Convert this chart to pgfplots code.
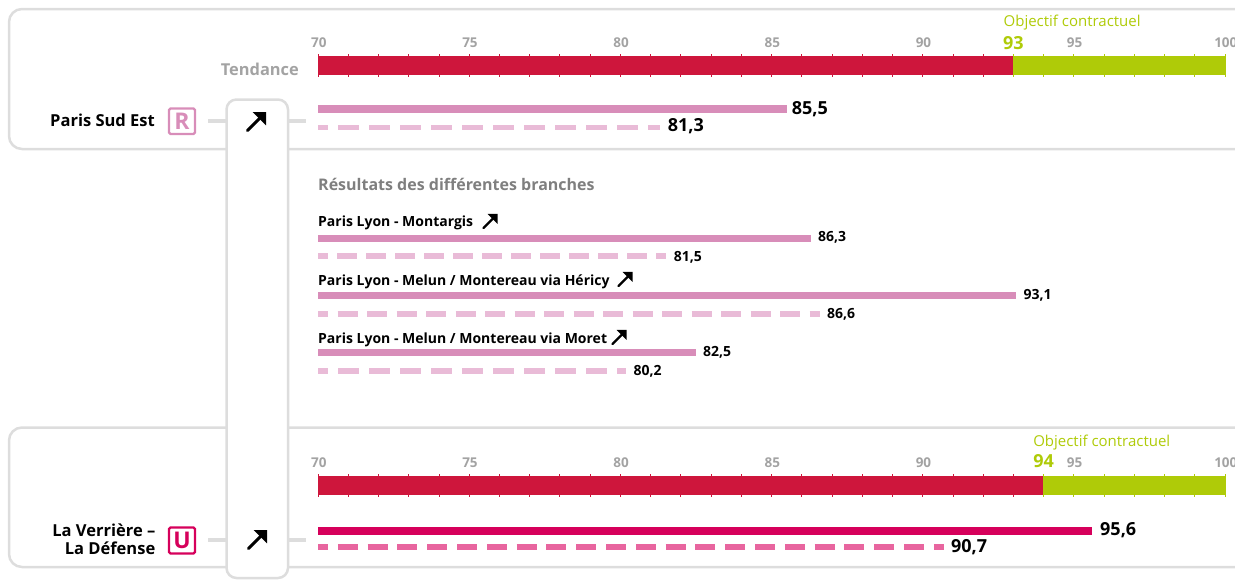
\documentclass[border=0pt]{standalone}
\usepackage{fontspec}
\setmainfont{Open Sans}
\usepackage{pgfplots}
\pgfplotsset{compat=1.18}
\definecolor{panelgrey}{HTML}{DDDDDD}
\definecolor{ticklab}{HTML}{A3A3A3}
\definecolor{headgrey}{HTML}{7F7F7F}
\definecolor{okred}{HTML}{CE163C}
\definecolor{okgreen}{HTML}{AFCB08}
\definecolor{rmain}{HTML}{D88DB9}
\definecolor{rdash}{HTML}{E9BBD7}
\definecolor{umain}{HTML}{D6005B}
\definecolor{udash}{HTML}{E8659F}
\newcommand{\fs}[1]{\fontsize{#1}{#1}\selectfont}
\tikzset{
  tl/.style={font=\bfseries\fs{13.5},text=ticklab,inner sep=0pt,anchor=center,xshift=0.8pt},
  val/.style={font=\bfseries\fs{18},text=black,inner sep=0pt,anchor=west},
  vals/.style={font=\bfseries\fs{14},text=black,inner sep=0pt,anchor=west},
  uparrow/.pic={\draw[line width=#1,line cap=round,black] (0,0) -- (0.95,-0.95); \draw[line width=#1,line join=miter,fill=black,black] (0.52,-1) -- (1,-1) -- (1,-0.52) -- cycle;},
}
\begin{document}
\begin{tikzpicture}
\useasboundingbox (0,0) rectangle (1235pt,-579pt);
\clip (0,0) rectangle (1235pt,-579pt);
\begin{scope}[x=1pt,y=-1pt,line width=2.5pt]
\draw[panelgrey,rounded corners=13pt] (1300,9) -- (9,9) -- (9,149) -- (1300,149);
\draw[panelgrey,rounded corners=13pt] (1300,427.5) -- (9,427.5) -- (9,567) -- (1300,567);
\draw[panelgrey,line width=3.5pt] (208,121) -- (306,121);
\draw[panelgrey,line width=3.5pt] (208,540) -- (306,540);
\draw[panelgrey,fill=white,rounded corners=10pt] (226.5,99.5) rectangle (288,578);
\end{scope}
\begin{axis}[
  at={(0,0)}, anchor=north west,
  width=1235pt, height=579pt, scale only axis, hide axis,
  xmin=59.482, xmax=100.331, ymin=0, ymax=579, y dir=reverse,
  clip=true,
]
% --- Paris Sud Est : objective scale
\addplot[okred,line width=19pt,line cap=butt] coordinates {(70,65.5) (93,65.5)};
\addplot[okgreen,line width=19pt,line cap=butt] coordinates {(93,65.5) (100,65.5)};
\addplot[only marks,mark=|,mark size=11.5pt,mark options={okred,line width=0.8pt}] coordinates {(70,65.5)(71,65.5)(72,65.5)(73,65.5)(74,65.5)(75,65.5)(76,65.5)(77,65.5)(78,65.5)(79,65.5)(80,65.5)(81,65.5)(82,65.5)(83,65.5)(84,65.5)(85,65.5)(86,65.5)(87,65.5)(88,65.5)(89,65.5)(90,65.5)(91,65.5)(92,65.5)};
\addplot[only marks,mark=|,mark size=11.5pt,mark options={okgreen,line width=0.8pt}] coordinates {(93,65.5)(94,65.5)(95,65.5)(96,65.5)(97,65.5)(98,65.5)(99,65.5)(100,65.5)};
% --- La Verriere : objective scale
\addplot[okred,line width=19pt] coordinates {(70,485.5) (94,485.5)};
\addplot[okgreen,line width=19pt] coordinates {(94,485.5) (100,485.5)};
\addplot[only marks,mark=|,mark size=11.5pt,mark options={okred,line width=0.8pt}] coordinates {(70,485.5)(71,485.5)(72,485.5)(73,485.5)(74,485.5)(75,485.5)(76,485.5)(77,485.5)(78,485.5)(79,485.5)(80,485.5)(81,485.5)(82,485.5)(83,485.5)(84,485.5)(85,485.5)(86,485.5)(87,485.5)(88,485.5)(89,485.5)(90,485.5)(91,485.5)(92,485.5)(93,485.5)};
\addplot[only marks,mark=|,mark size=11.5pt,mark options={okgreen,line width=0.8pt}] coordinates {(94,485.5)(95,485.5)(96,485.5)(97,485.5)(98,485.5)(99,485.5)(100,485.5)};
% --- Results
\addplot[rmain,line width=8pt] coordinates {(70,109.3) (85.5,109.3)};
\addplot[rdash,line width=5.5pt,dash pattern=on 21pt off 10pt,dash phase=11pt] coordinates {(70,127.3) (81.3,127.3)};
\addplot[rmain,line width=7pt] coordinates {(70,238) (86.3,238)};
\addplot[rdash,line width=6pt,dash pattern=on 20pt off 9pt,dash phase=10pt] coordinates {(70,256.3) (81.5,256.3)};
\addplot[rmain,line width=7pt] coordinates {(70,295.2) (93.1,295.2)};
\addplot[rdash,line width=6pt,dash pattern=on 20pt off 9.5pt,dash phase=10pt] coordinates {(70,313.7) (86.6,313.7)};
\addplot[rmain,line width=7pt] coordinates {(70,352.6) (82.5,352.6)};
\addplot[rdash,line width=6pt,dash pattern=on 21pt off 10pt,dash phase=11pt] coordinates {(70,371.2) (80.2,371.2)};
\addplot[umain,line width=8pt] coordinates {(70,530.5) (95.6,530.5)};
\addplot[udash,line width=5.5pt,dash pattern=on 20pt off 9.8pt,dash phase=10pt] coordinates {(70,547.2) (90.7,547.2)};
% --- tick labels
\node[tl] at (axis cs:70,43) {70};
\node[tl] at (axis cs:75,43) {75};
\node[tl] at (axis cs:80,43) {80};
\node[tl] at (axis cs:85,43) {85};
\node[tl] at (axis cs:90,43) {90};
\node[tl] at (axis cs:95,43) {95};
\node[tl] at (axis cs:100,43) {100};
\node[tl] at (axis cs:70,463) {70};
\node[tl] at (axis cs:75,463) {75};
\node[tl] at (axis cs:80,463) {80};
\node[tl] at (axis cs:85,463) {85};
\node[tl] at (axis cs:90,463) {90};
\node[tl] at (axis cs:95,463) {95};
\node[tl] at (axis cs:100,463) {100};
% --- value labels
\node[val] at (axis cs:85.5,109) [xshift=5pt] {85,5};
\node[val] at (axis cs:81.3,126) [xshift=8pt] {81,3};
\node[vals] at (axis cs:86.3,237.5) [xshift=7pt] {86,3};
\node[vals] at (axis cs:81.5,257.5) [xshift=8pt] {81,5};
\node[vals] at (axis cs:93.1,295.5) [xshift=7pt] {93,1};
\node[vals] at (axis cs:86.6,314.5) [xshift=7pt] {86,6};
\node[vals] at (axis cs:82.5,352.5) [xshift=7pt] {82,5};
\node[vals] at (axis cs:80.2,371.5) [xshift=7pt] {80,2};
\node[val] at (axis cs:95.6,530) [xshift=8pt] {95,6};
\node[val] at (axis cs:90.7,547) [xshift=7pt] {90,7};
% --- objectives
\node[font=\bfseries\fs{18},text=okgreen,inner sep=0pt] at (axis cs:93,43) {93};
\node[font=\bfseries\fs{18},text=okgreen,inner sep=0pt] at (axis cs:94,461) {94};
\node[font=\fs{15},text=okgreen,inner sep=0pt,anchor=west] at (axis cs:92.67,23) {Objectif contractuel};
\node[font=\fs{15},text=okgreen,inner sep=0pt,anchor=west] at (axis cs:93.65,443) {Objectif contractuel};
\end{axis}
\begin{scope}[x=1pt,y=-1pt]
\node[font=\bfseries\fs{16.4},text=ticklab,anchor=east,inner sep=0pt] at (299,69) {Tendance};
\node[font=\bfseries\fs{16.5},anchor=east,inner sep=0pt] at (155,120) {Paris Sud Est};
\node[font=\bfseries\fs{16.5},anchor=east,inner sep=0pt] at (155.5,530) {La Verrière –};
\node[font=\bfseries\fs{16.5},anchor=east,inner sep=0pt] at (155.5,548) {La Défense};
\draw[rmain,line width=2.2pt,rounded corners=1.5pt] (169,108.5) rectangle (195,134);
\node[font=\bfseries\fs{23},text=rmain,inner sep=0pt] at (182,121.5) {R};
\draw[umain,line width=2.2pt,rounded corners=1.5pt] (169,527.5) rectangle (195,553.5);
\node[font=\bfseries\fs{23},text=umain,inner sep=0pt] at (182,540) {U};
\node[font=\bfseries\fs{16},text=headgrey,anchor=west,inner sep=0pt] at (318,184) {Résultats des différentes branches};
\node[font=\bfseries\fs{14},anchor=west,inner sep=0pt] at (318,222.5) {Paris Lyon - Montargis};
\node[font=\bfseries\fs{14},anchor=west,inner sep=0pt] at (318,281.5) {Paris Lyon - Melun / Montereau via Héricy};
\node[font=\bfseries\fs{14},anchor=west,inner sep=0pt] at (318,339.5) {Paris Lyon - Melun / Montereau via Moret};
\begin{scope}[x=13pt,y=-13pt]
\pic at (483.5pt,-228pt) {uparrow=2.2pt};
\pic at (618.5pt,-286pt) {uparrow=2.2pt};
\pic at (612.5pt,-344pt) {uparrow=2.2pt};
\end{scope}
\begin{scope}[x=17pt,y=-17pt]
\pic at (247.5pt,-130.5pt) {uparrow=3pt};
\pic at (248.5pt,-548.5pt) {uparrow=3pt};
\end{scope}
\end{scope}
\end{tikzpicture}
\end{document}
